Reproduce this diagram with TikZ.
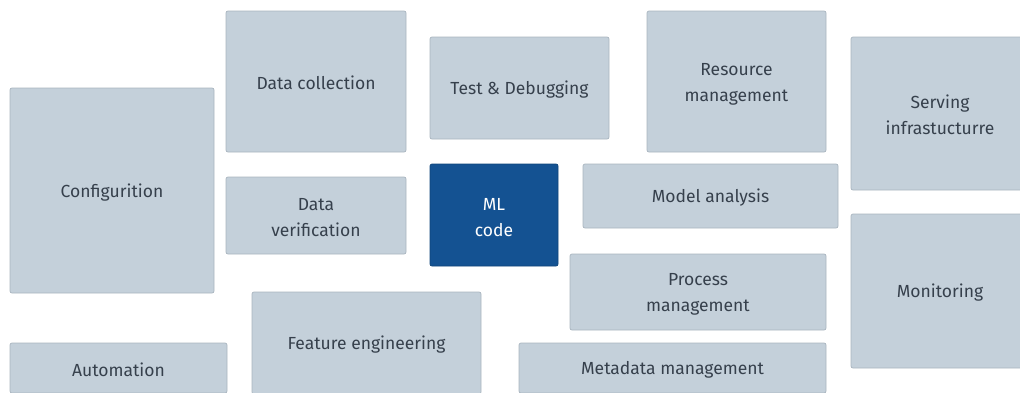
\documentclass[tikz,border=0pt]{standalone}
\usepackage{fontspec}
\setmainfont{Fira Sans}
\definecolor{boxfill}{HTML}{C4D0DA}
\definecolor{boxline}{HTML}{A9B4BE}
\definecolor{boxtext}{HTML}{36404C}
\definecolor{mlfill}{HTML}{145292}
\definecolor{mlline}{HTML}{0F4479}
\newcommand{\topstrut}{\rule{0pt}{17pt}}
\tikzset{
  box/.style={draw=boxline, fill=boxfill, line width=0.7pt, rounded corners=2pt,
    inner sep=0pt, align=center, text=boxtext, font=\fontsize{17.5}{26}\selectfont,
    execute at begin node={\topstrut},
    minimum width=#1},
  mlbox/.style={box=#1, fill=mlfill, draw=mlline, text=white},
}
\begin{document}
\begin{tikzpicture}[x=1pt,y=-1pt]
\useasboundingbox (0,0) rectangle (1020,392);
\clip (0,0) rectangle (1020,392);
\node[box=204pt, minimum height=205pt] (conf) at (112,190.5) {Configurition};
\node[box=180pt, minimum height=141pt] (dcoll) at (316,81.5) {Data collection};
\node[box=180pt, minimum height=77pt] (dver) at (316,215.5) {\topstrut Data\\verification};
\node[box=179pt, minimum height=102pt] (test) at (519.5,88) {Test \& Debugging};
\node[mlbox=128pt, minimum height=102pt] (ml) at (494,215) {\topstrut ML\\code};
\node[box=179pt, minimum height=141pt] (res) at (736.5,81.5) {\topstrut Resource\\management};
\node[box=178pt, minimum height=153pt] (serv) at (940,113.5) {\topstrut Serving\\infrastucturre};
\node[box=255pt, minimum height=64pt] (model) at (710.5,196) {Model analysis};
\node[box=256pt, minimum height=76pt] (proc) at (698,292) {\topstrut Process\\management};
\node[box=307pt, minimum height=50pt] (meta) at (672.5,368) {Metadata management};
\node[box=178pt, minimum height=154pt] (mon) at (940,291) {Monitoring};
\node[box=229pt, minimum height=102pt] (feat) at (366.5,343) {Feature engineering};
\node[box=217pt, minimum height=50pt] (auto) at (118.5,368) {Automation};
\end{tikzpicture}
\end{document}
